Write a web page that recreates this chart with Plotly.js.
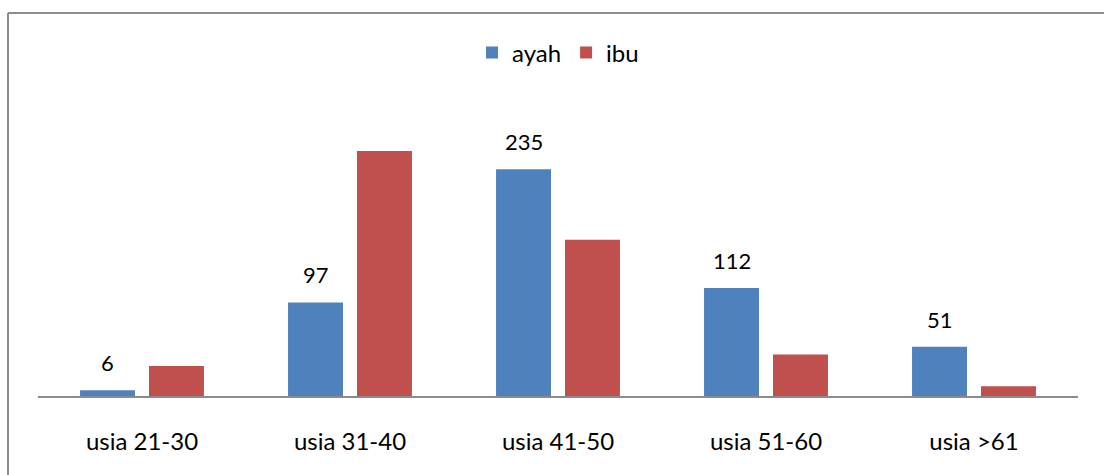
<!DOCTYPE html>
<html><head><meta charset="utf-8">
<script src="https://cdn.plot.ly/plotly-3.0.1.min.js"></script>
<style>html,body{margin:0;padding:0;background:#fff;overflow:hidden}#chart{width:1104px;height:475px}</style>
</head><body><div id="chart"></div>
<script>
const categories = ['usia 21-30', 'usia 31-40', 'usia 41-50', 'usia 51-60', 'usia >61'];
const ayah = [6, 97, 235, 112, 51];
const ibu = [31, 254, 162, 43, 10];
const seriesNames = ['ayah', 'ibu'];

const FONT = 'Lato, "Open Sans", sans-serif';
const traces = [
  {type: 'bar', name: seriesNames[0], x: categories, y: ayah, marker: {color: '#4F81BD'}, hoverinfo: 'x+y'},
  {type: 'bar', name: seriesNames[1], x: categories, y: ibu, marker: {color: '#C0504D'}, hoverinfo: 'x+y'}
];
const ML = 38, MR = 26, MT = 80, MB = 79, W = 1104, H = 475;
const pw = W - ML - MR, ph = H - MT - MB;
const annotations = categories.map((c, i) => ({
  x: c, y: ayah[i], xref: 'x', yref: 'y', text: String(ayah[i]), showarrow: false,
  xanchor: 'center', yanchor: 'bottom', xshift: -34.5, yshift: 12,
  font: {family: FONT, size: 22, color: '#000'}
}));
const layout = {
  width: W, height: H,
  margin: {l: ML, r: MR, t: MT, b: MB, autoexpand: false},
  paper_bgcolor: '#fff', plot_bgcolor: '#fff',
  barmode: 'group', bargap: 0.337, bargroupgap: 0.203,
  showlegend: true,
  legend: {orientation: 'h', x: 0.5, xanchor: 'center', y: (H - MB - 53) / ph, yanchor: 'middle',
           bgcolor: 'rgba(0,0,0,0)', borderwidth: 0,
           font: {family: FONT, size: 24, color: '#000'}, itemwidth: 30, tracegroupgap: 0},
  xaxis: {showline: true, linecolor: '#8c8c8c', linewidth: 1.5, ticks: '', showgrid: false,
          zeroline: false, ticklabelstandoff: 24, tickfont: {family: FONT, size: 24, color: '#000'}},
  yaxis: {range: [0, ph / 0.9647], visible: false, showgrid: false, zeroline: false},
  annotations: annotations,
  shapes: [
    {type: 'line', xref: 'paper', yref: 'paper', x0: (8 - ML) / pw, x1: 1.2, y0: (H - MB - 13) / ph, y1: (H - MB - 13) / ph,
     line: {color: '#8c8c8c', width: 2}},
    {type: 'line', xref: 'paper', yref: 'paper', x0: (8 - ML) / pw, x1: (8 - ML) / pw, y0: (H - MB - 13) / ph, y1: -0.5,
     line: {color: '#8c8c8c', width: 2}}
  ]
};
Plotly.newPlot('chart', traces, layout, {displayModeBar: false, staticPlot: true});
</script></body></html>
